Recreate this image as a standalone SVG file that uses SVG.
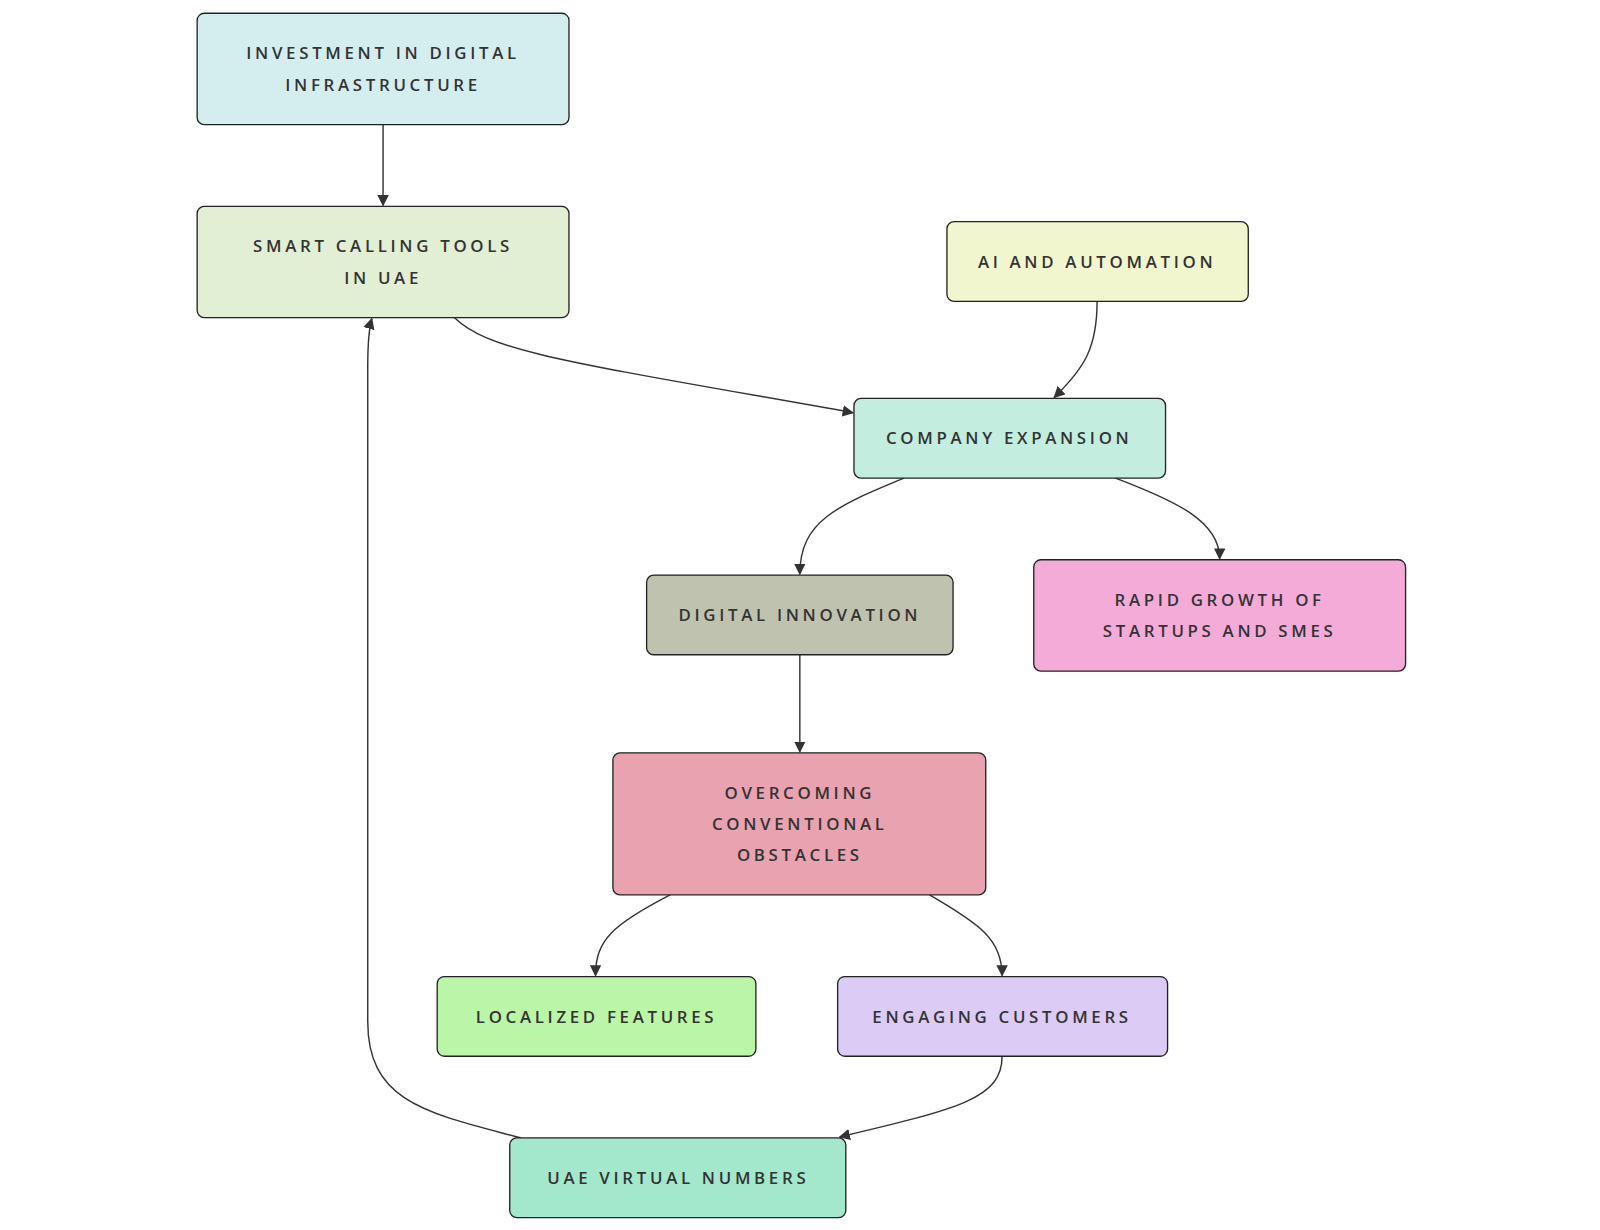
<svg xmlns="http://www.w3.org/2000/svg" width="1600" height="1230" viewBox="0 0 1600 1230">
<style>
.n rect{stroke:#222;stroke-width:1.3}
.n text{font-family:"Open Sans","Liberation Sans",sans-serif;font-size:16.5px;font-weight:600;letter-spacing:3.6px;fill:#333;text-anchor:middle}
.e path{fill:none;stroke:#333;stroke-width:1.4;marker-end:url(#a)}
</style>
<defs><marker id="a" viewBox="0 0 10 10" refX="9" refY="5" markerWidth="8" markerHeight="8" orient="auto-start-reverse"><path d="M0,0L10,5L0,10z" fill="#333"/></marker></defs>
<rect width="1600" height="1230" fill="#fff"/>
<g transform="scale(1.0215)">
<g class="e">
<path d="M375,122 L375,201"/>
<path d="M445,311 C480,345 560,355 835,404"/>
<path d="M1074,295 C1074,340 1062,360 1032,389"/>
<path d="M885,468 C820,495 783,510 783,562"/>
<path d="M1092,468 C1150,490 1194,510 1194,547"/>
<path d="M783,641 L783,736"/>
<path d="M656,876 C600,905 583,920 583,955"/>
<path d="M910,876 C960,905 981,920 981,955"/>
<path d="M981,1034 C981,1075 940,1085 822,1113"/>
<path d="M510,1114 C420,1090 360,1080 360,1000 L360,360 C360,335 361,322 364,312"/>
</g>
<g class="n" id="investment"><rect x="193" y="13" width="364" height="109" rx="7" fill="#d4eef0"/><text x="375" y="58">INVESTMENT IN DIGITAL</text><text x="375" y="89">INFRASTRUCTURE</text></g>
<g class="n" id="smart"><rect x="193" y="202" width="364" height="109" rx="7" fill="#e2efd4"/><text x="375" y="247">SMART CALLING TOOLS</text><text x="375" y="278">IN UAE</text></g>
<g class="n" id="ai"><rect x="927" y="217" width="295" height="78" rx="7" fill="#f2f6cf"/><text x="1074" y="262">AI AND AUTOMATION</text></g>
<g class="n" id="company"><rect x="836" y="390" width="305" height="78" rx="7" fill="#c3eddf"/><text x="988" y="435">COMPANY EXPANSION</text></g>
<g class="n" id="digital"><rect x="633" y="563" width="300" height="78" rx="7" fill="#c0c2b0"/><text x="783" y="608">DIGITAL INNOVATION</text></g>
<g class="n" id="rapid"><rect x="1012" y="548" width="364" height="109" rx="7" fill="#f4abd8"/><text x="1194" y="593">RAPID GROWTH OF</text><text x="1194" y="624">STARTUPS AND SMES</text></g>
<g class="n" id="overcoming"><rect x="600" y="737" width="365" height="139" rx="7" fill="#e8a2b0"/><text x="783" y="782">OVERCOMING</text><text x="783" y="813">CONVENTIONAL</text><text x="783" y="843">OBSTACLES</text></g>
<g class="n" id="localized"><rect x="428" y="956" width="312" height="78" rx="7" fill="#bbf5a8"/><text x="584" y="1001">LOCALIZED FEATURES</text></g>
<g class="n" id="engaging"><rect x="820" y="956" width="323" height="78" rx="7" fill="#dccbf5"/><text x="981" y="1001">ENGAGING CUSTOMERS</text></g>
<g class="n" id="uae"><rect x="499" y="1114" width="329" height="78" rx="7" fill="#a3e8cc"/><text x="664" y="1159">UAE VIRTUAL NUMBERS</text></g>
</g>
</svg>
